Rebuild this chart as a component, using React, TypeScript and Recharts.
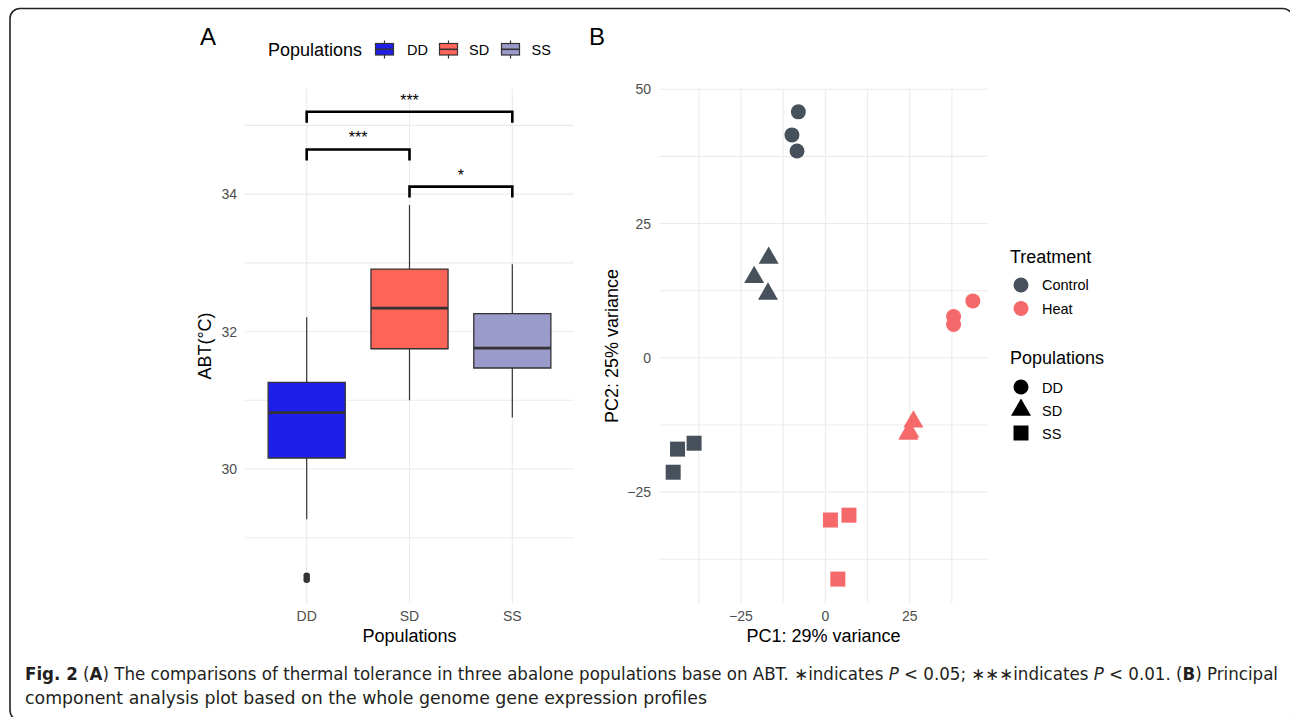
import React from "react";
import {
  CartesianGrid,
  ComposedChart,
  Label,
  Line,
  ReferenceArea,
  ReferenceLine,
  Scatter,
  ScatterChart,
  Symbols,
  XAxis,
  YAxis,
} from "recharts";

const FONT = '"Liberation Sans", Arial, sans-serif';
const CAPTION_FONT = '"Liberation Sans Narrow", "DejaVu Sans Condensed", "Open Sans", sans-serif';
const GRID = "#EBEBEB";
const TICK = { fill: "#4D4D4D", fontSize: 14, fontFamily: FONT };

// ---- Panel A: ABT per population (boxplot summary)
const populations = ["DD", "SD", "SS"];
const popColors = ["#1E1EEA", "#FF6459", "#9A9ACB"];
const whiskerLow = [29.27, 31.0, 30.75];
const q1 = [30.16, 31.75, 31.47];
const median = [30.82, 32.34, 31.76];
const q3 = [31.26, 32.91, 32.26];
const whiskerHigh = [32.21, 33.84, 32.98];
const outlierPop = [1, 1];
const outlierAbt = [28.445, 28.39];
const abtTicks = [29, 30, 31, 32, 33, 34, 35];
const abtLabelled = [30, 32, 34];

// significance brackets (population index from / to, bracket height, label)
const bracketFrom = [1, 1, 2];
const bracketTo = [3, 2, 3];
const bracketTop = [35.2, 34.65, 34.11];
const bracketDrop = 0.16;
const bracketSig = ["***", "***", "*"];

// ---- Panel B: PCA scores [PC1, PC2]
const treatments = ["Control", "Heat"];
const treatmentColors = ["#46515B", "#F5696A"];
const popShapes = ["circle", "triangle", "square"] as const;
const pcaControlDD = [[-8.0, 45.8], [-9.9, 41.5], [-8.4, 38.5]];
const pcaControlSD = [[-16.8, 18.6], [-21.1, 15.0], [-17.0, 11.9]];
const pcaControlSS = [[-43.8, -17.0], [-38.9, -15.9], [-45.1, -21.3]];
const pcaHeatDD = [[43.7, 10.6], [38.0, 7.7], [38.0, 6.2]];
const pcaHeatSD = [[26.1, -11.9], [24.6, -14.2], [24.9, -13.8]];
const pcaHeatSS = [[1.5, -30.2], [7.0, -29.3], [3.7, -41.2]];
const pcTicks = [-37.5, -25, -12.5, 0, 12.5, 25, 37.5, 50];
const pcLabelled = [-25, 0, 25, 50];

const pcaGroups = [
  { t: 0, p: 0, pts: pcaControlDD },
  { t: 0, p: 1, pts: pcaControlSD },
  { t: 0, p: 2, pts: pcaControlSS },
  { t: 1, p: 0, pts: pcaHeatDD },
  { t: 1, p: 1, pts: pcaHeatSD },
  { t: 1, p: 2, pts: pcaHeatSS },
];

const SYMBOL_AREA: Record<string, number> = { circle: 177, triangle: 173, square: 225 };
const HALF_BOX = 0.375;

const fmtSigned = (v: number) => (v < 0 ? "\u2212" + Math.abs(v) : String(v));

function PanelA() {
  return (
    <ComposedChart width={600} height={717} margin={{ top: 89, right: 26, bottom: 48, left: 165 }}>
      <CartesianGrid stroke={GRID} strokeWidth={1.1} syncWithTicks />
      <XAxis
        type="number"
        dataKey="x"
        domain={[0.4, 3.6]}
        ticks={[1, 2, 3]}
        interval={0}
        tickFormatter={(v: number) => populations[v - 1]}
        axisLine={false}
        tickLine={false}
        tick={TICK}
        height={66}
        allowDataOverflow
      >
        <Label value="Populations" position="center" fontSize={18} fill="#000" fontFamily={FONT} />
      </XAxis>
      <YAxis
        type="number"
        dataKey="y"
        domain={[28.05, 35.53]}
        ticks={abtTicks}
        interval={0}
        tickFormatter={(v: number) => (abtLabelled.includes(v) ? String(v) : "")}
        axisLine={false}
        tickLine={false}
        tick={TICK}
        width={80}
        allowDataOverflow
      >
        <Label value="ABT(°C)" angle={-90} position="center" fontSize={18} fill="#000" fontFamily={FONT} />
      </YAxis>

      {populations.map((pop, i) => (
        <ReferenceLine
          key={pop + "-wl"}
          segment={[{ x: i + 1, y: whiskerLow[i] }, { x: i + 1, y: q1[i] }]}
          stroke="#333"
          strokeWidth={1.2}
        />
      ))}
      {populations.map((pop, i) => (
        <ReferenceLine
          key={pop + "-wh"}
          segment={[{ x: i + 1, y: q3[i] }, { x: i + 1, y: whiskerHigh[i] }]}
          stroke="#333"
          strokeWidth={1.2}
        />
      ))}
      {populations.map((pop, i) => (
        <ReferenceArea
          key={pop + "-box"}
          x1={i + 1 - HALF_BOX}
          x2={i + 1 + HALF_BOX}
          y1={q1[i]}
          y2={q3[i]}
          fill={popColors[i]}
          fillOpacity={1}
          stroke="#333"
          strokeWidth={1.3}
        />
      ))}
      {populations.map((pop, i) => (
        <ReferenceLine
          key={pop + "-med"}
          segment={[{ x: i + 1 - HALF_BOX, y: median[i] }, { x: i + 1 + HALF_BOX, y: median[i] }]}
          stroke="#333"
          strokeWidth={2.8}
        />
      ))}

      <Scatter
        data={outlierPop.map((x, i) => ({ x, y: outlierAbt[i] }))}
        fill="#333"
        isAnimationActive={false}
        shape={(p: any) => <circle cx={p.cx} cy={p.cy} r={3.3} fill="#333" />}
      />

      {bracketSig.map((sig, i) => (
        <Line
          key={"br" + i}
          data={[
            { x: bracketFrom[i], y: bracketTop[i] - bracketDrop },
            { x: bracketFrom[i], y: bracketTop[i] },
            { x: bracketTo[i], y: bracketTop[i] },
            { x: bracketTo[i], y: bracketTop[i] - bracketDrop },
          ]}
          dataKey="y"
          type="linear"
          stroke="#000"
          strokeWidth={2.6}
          dot={false}
          activeDot={false}
          isAnimationActive={false}
        />
      ))}
      {bracketSig.map((sig, i) => (
        <ReferenceLine
          key={"sig" + i}
          segment={[{ x: bracketFrom[i], y: bracketTop[i] }, { x: bracketTo[i], y: bracketTop[i] }]}
          stroke="none"
          label={{ value: sig, position: "top", offset: 6, fontSize: 16, fill: "#000", fontFamily: FONT }}
        />
      ))}
    </ComposedChart>
  );
}

function PanelB() {
  return (
    <ScatterChart width={470} height={717} margin={{ top: 89, right: 22, bottom: 48, left: 25 }}>
      <CartesianGrid stroke={GRID} strokeWidth={1.1} syncWithTicks />
      <XAxis
        type="number"
        dataKey="pc1"
        domain={[-49.3, 48.2]}
        ticks={pcTicks.filter((t) => t < 48)}
        interval={0}
        tickFormatter={(v: number) => (pcLabelled.includes(v) ? fmtSigned(v) : "")}
        axisLine={false}
        tickLine={false}
        tick={TICK}
        height={66}
        allowDataOverflow
      >
        <Label value="PC1: 29% variance" position="center" fontSize={18} fill="#000" fontFamily={FONT} />
      </XAxis>
      <YAxis
        type="number"
        dataKey="pc2"
        domain={[-45.65, 50.05]}
        ticks={pcTicks}
        interval={0}
        tickFormatter={(v: number) => (pcLabelled.includes(v) ? fmtSigned(v) : "")}
        axisLine={false}
        tickLine={false}
        tick={TICK}
        width={94}
        allowDataOverflow
      >
        <Label value="PC2: 25% variance" angle={-90} position="center" fontSize={18} fill="#000" fontFamily={FONT} />
      </YAxis>
      {pcaGroups.map((g) => {
        const shape = popShapes[g.p];
        const color = treatmentColors[g.t];
        return (
          <Scatter
            key={treatments[g.t] + populations[g.p]}
            name={treatments[g.t] + " " + populations[g.p]}
            data={g.pts.map(([pc1, pc2]) => ({ pc1, pc2 }))}
            fill={color}
            isAnimationActive={false}
            shape={(p: any) => (
              <Symbols cx={p.cx} cy={p.cy} type={shape} size={SYMBOL_AREA[shape]} fill={color} />
            )}
          />
        );
      })}
    </ScatterChart>
  );
}

function Overlay() {
  const capLine1: [string, string?][] = [
    ["Fig. 2", "b"],
    [" ("],
    ["A", "b"],
    [") The comparisons of thermal tolerance in three abalone populations base on ABT. \u2217indicates "],
    ["P", "i"],
    [" < 0.05; \u2217\u2217\u2217indicates "],
    ["P", "i"],
    [" < 0.01. ("],
    ["B", "b"],
    [") Principal"],
  ];
  const legendAKeys = [375.5, 439.5, 501.5];
  const legendALabels = [407, 469, 531.5];
  return (
    <svg width={1290} height={717} style={{ position: "absolute", left: 0, top: 0, pointerEvents: "none" }}>
      <rect x={10} y={8.5} width={1283} height={712} rx={10} fill="none" stroke="#222" strokeWidth={1.6} />
      <text x={200} y={45} fontSize={24} fontFamily={FONT} fill="#000">A</text>
      <text x={589} y={45} fontSize={24} fontFamily={FONT} fill="#000">B</text>

      {/* legend A */}
      <text x={268} y={55.5} fontSize={18} fontFamily={FONT} fill="#000">Populations</text>
      {populations.map((pop, i) => (
        <g key={pop}>
          <line x1={legendAKeys[i] + 9} x2={legendAKeys[i] + 9} y1={40.5} y2={58.5} stroke="#333" strokeWidth={1.2} />
          <rect x={legendAKeys[i]} y={43.5} width={18} height={11.5} fill={popColors[i]} stroke="#333" strokeWidth={1.2} />
          <line x1={legendAKeys[i]} x2={legendAKeys[i] + 18} y1={49.3} y2={49.3} stroke="#333" strokeWidth={1.6} />
          <text x={legendALabels[i]} y={55} fontSize={14.5} fontFamily={FONT} fill="#000">{pop}</text>
        </g>
      ))}

      {/* legend B */}
      <text x={1010} y={262.5} fontSize={18} fontFamily={FONT} fill="#000">Treatment</text>
      {treatments.map((t, i) => (
        <g key={t}>
          <Symbols cx={1021} cy={285 + i * 23.5} type="circle" size={SYMBOL_AREA.circle} fill={treatmentColors[i]} />
          <text x={1042} y={290 + i * 23.5} fontSize={14.5} fontFamily={FONT} fill="#000">{t}</text>
        </g>
      ))}
      <text x={1010} y={364} fontSize={18} fontFamily={FONT} fill="#000">Populations</text>
      {populations.map((pop, i) => (
        <g key={pop}>
          <Symbols cx={1021} cy={387 + i * 23} type={popShapes[i]} size={SYMBOL_AREA[popShapes[i]]} fill="#000" />
          <text x={1042} y={392.5 + i * 23} fontSize={14.5} fontFamily={FONT} fill="#000">{pop}</text>
        </g>
      ))}

      {/* caption */}
      <text x={25} y={680} fontSize={17} fontFamily={CAPTION_FONT} fill="#231F20" textLength={1253} lengthAdjust="spacingAndGlyphs">
        {capLine1.map(([s, st], i) => (
          <tspan key={i} fontWeight={st === "b" ? "bold" : "normal"} fontStyle={st === "i" ? "italic" : "normal"}>
            {s}
          </tspan>
        ))}
      </text>
      <text x={25} y={704} fontSize={17} fontFamily={CAPTION_FONT} fill="#231F20" textLength={682} lengthAdjust="spacingAndGlyphs">
        component analysis plot based on the whole genome gene expression profiles
      </text>
    </svg>
  );
}

export default function App() {
  return (
    <div style={{ position: "absolute", left: 0, top: 0, width: 1290, height: 717, background: "#fff", overflow: "hidden" }}>
      <div style={{ position: "absolute", left: 0, top: 0 }}>
        <PanelA />
      </div>
      <div style={{ position: "absolute", left: 540, top: 0 }}>
        <PanelB />
      </div>
      <Overlay />
    </div>
  );
}
